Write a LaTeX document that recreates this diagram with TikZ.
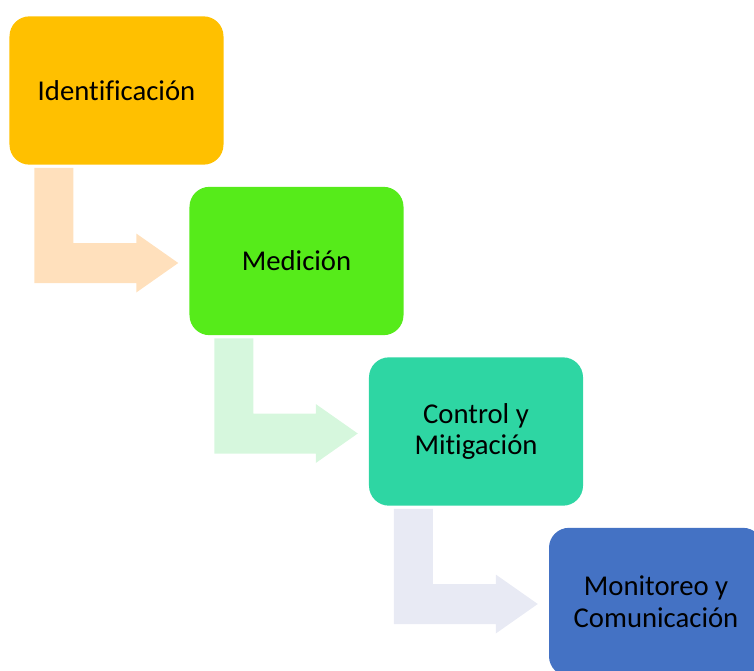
\documentclass[tikz,border=0pt]{standalone}
\usepackage{fontspec}
\setmainfont[Ligatures=NoCommon]{Carlito}
\usetikzlibrary{calc,positioning}

\definecolor{idfill}{HTML}{FFC000}
\definecolor{medfill}{HTML}{56EB1A}
\definecolor{ctlfill}{HTML}{2ED6A3}
\definecolor{monfill}{HTML}{4472C4}
\definecolor{idarrow}{HTML}{FFE0BC}
\definecolor{medarrow}{HTML}{D6F7DD}
\definecolor{ctlarrow}{HTML}{E8EAF4}

% bent arrow from below one box to the left side of the next
\newcommand{\bentarrow}[3]{%
  \coordinate (s) at ($(#2.south west)+(25,3)$);
  \coordinate (t) at ($(#3.west)+(-11,2)$);
  \fill[#1] (s) -- ++(39,0) |- ($(t)+(-42,-20)$) -- ++(0,-9.5) -- (t)
    -- ($(t)+(-42,29.5)$) -- ++(0,-9.5) -| (s) -- cycle;
}

\begin{document}
\begin{tikzpicture}[
          x = 0.03cm, y = -0.03cm, % pixel grid, y going down
          stage/.style = {
            draw = none,
            rounded corners = 0.6cm,
            minimum width = 6.42cm,
            minimum height = 4.45cm,
            align = center,
            font = \fontsize{24.5}{27}\selectfont
          }
          ]

          \clip (0,0) rectangle (754,670);

          \node[stage, fill = idfill] (id) at (116.5,90.5) {Identificación};
          \node[stage, fill = medfill] (med) at (296.5,261) {Medición};
          \node[stage, fill = ctlfill] (ctl) at (476,431.5) {Control y\\Mitigación};
          \node[stage, fill = monfill] (mon) at (656,602) {Monitoreo y\\Comunicación};

          \bentarrow{idarrow}{id}{med}
          \bentarrow{medarrow}{med}{ctl}
          \bentarrow{ctlarrow}{ctl}{mon}

        \end{tikzpicture}
\end{document}
